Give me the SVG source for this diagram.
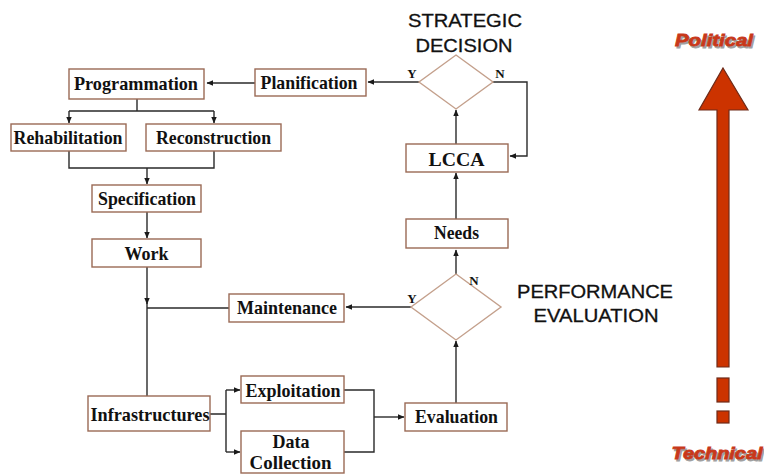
<svg xmlns="http://www.w3.org/2000/svg" width="764" height="474" viewBox="0 0 764 474">
  <style>
    .box { fill: #ffffff; stroke: #9a6a55; stroke-width: 1.4; }
    .dia { fill: #ffffff; stroke: #c4a08c; stroke-width: 1.4; }
    .lbl { font-family: "Liberation Serif", "Times New Roman", serif; font-weight: bold; font-size: 19px; fill: #111111; text-anchor: middle; }
    .yn { font-family: "Liberation Serif", "Times New Roman", serif; font-weight: bold; font-size: 13px; fill: #111111; text-anchor: middle; }
    .head { font-family: "Liberation Sans", Arial, sans-serif; font-size: 18px; fill: #111111; stroke: #111111; stroke-width: 0.3; text-anchor: middle; }
    .lvl { font-family: "Liberation Sans", Arial, sans-serif; font-weight: bold; font-style: italic; font-size: 17px; stroke-width: 0.8; text-anchor: middle; }
    .conn { fill: none; stroke: #2a2a2a; stroke-width: 1.4; }
  </style>
  <defs>
    <marker id="arr" markerWidth="7" markerHeight="7" refX="6" refY="3.5" orient="auto" markerUnits="userSpaceOnUse">
      <path d="M0,0.8 L6.5,3.5 L0,6.2 Z" fill="#1a1a1a"/>
    </marker>
  </defs>

  <rect width="764" height="474" fill="#ffffff"/>

  <!-- headings -->
  <g id="strategic-heading">
    <text class="head" x="465" y="27" textLength="114" lengthAdjust="spacingAndGlyphs">STRATEGIC</text>
    <text class="head" x="464" y="52" textLength="97" lengthAdjust="spacingAndGlyphs">DECISION</text>
  </g>
  <g id="performance-heading">
    <text class="head" x="595" y="298" textLength="156" lengthAdjust="spacingAndGlyphs">PERFORMANCE</text>
    <text class="head" x="596" y="322" textLength="125" lengthAdjust="spacingAndGlyphs">EVALUATION</text>
  </g>

  <!-- connectors -->
  <g id="connectors">
    <path class="conn" d="M255,83 H207" marker-end="url(#arr)"/>
    <path class="conn" d="M419,82 H368" marker-end="url(#arr)"/>
    <path class="conn" d="M137,99 V111 M69,111 H214"/>
    <path class="conn" d="M69,111 V123" marker-end="url(#arr)"/>
    <path class="conn" d="M214,111 V123" marker-end="url(#arr)"/>
    <path class="conn" d="M69,151 V168 H214 V151"/>
    <path class="conn" d="M147,168 V184" marker-end="url(#arr)"/>
    <path class="conn" d="M147,212 V238" marker-end="url(#arr)"/>
    <path class="conn" d="M147,267 V304" marker-end="url(#arr)"/>
    <path class="conn" d="M147,303 V396"/>
    <path class="conn" d="M229,308 H147"/>
    <path class="conn" d="M411,307 H346" marker-end="url(#arr)"/>
    <path class="conn" d="M456,274 V250" marker-end="url(#arr)"/>
    <path class="conn" d="M456,219 V173" marker-end="url(#arr)"/>
    <path class="conn" d="M456,144 V110" marker-end="url(#arr)"/>
    <path class="conn" d="M493,82 H527 V156 H510" marker-end="url(#arr)"/>
    <path class="conn" d="M456,403 V341" marker-end="url(#arr)"/>
    <path class="conn" d="M210,414 H226 M226,390 V452"/>
    <path class="conn" d="M226,390 H240" marker-end="url(#arr)"/>
    <path class="conn" d="M226,452 H240" marker-end="url(#arr)"/>
    <path class="conn" d="M344,390 H374 V452 H344"/>
    <path class="conn" d="M374,417 H404" marker-end="url(#arr)"/>
  </g>

  <!-- nodes -->
  <g id="programmation">
    <rect class="box" x="69" y="69" width="135" height="30"/>
    <text class="lbl" x="136" y="90" textLength="124" lengthAdjust="spacingAndGlyphs">Programmation</text>
  </g>
  <g id="planification">
    <rect class="box" x="255" y="69" width="111" height="27"/>
    <text class="lbl" x="309" y="89" textLength="97" lengthAdjust="spacingAndGlyphs">Planification</text>
  </g>
  <g id="rehabilitation">
    <rect class="box" x="11" y="124" width="115" height="27"/>
    <text class="lbl" x="68" y="144" textLength="109" lengthAdjust="spacingAndGlyphs">Rehabilitation</text>
  </g>
  <g id="reconstruction">
    <rect class="box" x="146" y="124" width="135" height="27"/>
    <text class="lbl" x="213.5" y="144" textLength="115" lengthAdjust="spacingAndGlyphs">Reconstruction</text>
  </g>
  <g id="specification">
    <rect class="box" x="92" y="185" width="109" height="27"/>
    <text class="lbl" x="147" y="205" textLength="98" lengthAdjust="spacingAndGlyphs">Specification</text>
  </g>
  <g id="work">
    <rect class="box" x="92" y="239" width="109" height="28"/>
    <text class="lbl" x="146.5" y="260" textLength="44" lengthAdjust="spacingAndGlyphs">Work</text>
  </g>
  <g id="maintenance">
    <rect class="box" x="229" y="294" width="115" height="28"/>
    <text class="lbl" x="287" y="314" textLength="100" lengthAdjust="spacingAndGlyphs">Maintenance</text>
  </g>
  <g id="infrastructures">
    <rect class="box" x="88" y="396" width="122" height="35"/>
    <text class="lbl" x="150" y="421" textLength="119" lengthAdjust="spacingAndGlyphs">Infrastructures</text>
  </g>
  <g id="exploitation">
    <rect class="box" x="241" y="376" width="103" height="27"/>
    <text class="lbl" x="293" y="397" textLength="95" lengthAdjust="spacingAndGlyphs">Exploitation</text>
  </g>
  <g id="data-collection">
    <rect class="box" x="241" y="431" width="103" height="42"/>
    <text class="lbl" x="291" y="448" textLength="37" lengthAdjust="spacingAndGlyphs">Data</text>
    <text class="lbl" x="290.5" y="469" textLength="82" lengthAdjust="spacingAndGlyphs">Collection</text>
  </g>
  <g id="evaluation">
    <rect class="box" x="405" y="403" width="102" height="28"/>
    <text class="lbl" x="456.5" y="423" textLength="83" lengthAdjust="spacingAndGlyphs">Evaluation</text>
  </g>
  <g id="performance-decision">
    <polygon class="dia" points="456,274 501,307 456,340 411,307"/>
    <text class="yn" x="412" y="303">Y</text>
    <text class="yn" x="474" y="285">N</text>
  </g>
  <g id="needs">
    <rect class="box" x="406" y="219" width="102" height="29"/>
    <text class="lbl" x="456.5" y="239" textLength="45" lengthAdjust="spacingAndGlyphs">Needs</text>
  </g>
  <g id="lcca">
    <rect class="box" x="406" y="144" width="102" height="28"/>
    <text class="lbl" x="456.5" y="166" textLength="56" lengthAdjust="spacingAndGlyphs">LCCA</text>
  </g>
  <g id="strategic-decision">
    <polygon class="dia" points="456,55 493,82 456,109 419,82"/>
    <text class="yn" x="412" y="78">Y</text>
    <text class="yn" x="500" y="78">N</text>
  </g>

  <!-- political / technical scale -->
  <g id="scale">
    <text class="lvl" x="715.5" y="47.5" fill="#a0a0a0" stroke="#a0a0a0" textLength="78" lengthAdjust="spacingAndGlyphs">Political</text>
    <text class="lvl" x="714" y="46" fill="#c8381a" stroke="#c8381a" textLength="78" lengthAdjust="spacingAndGlyphs">Political</text>
    <polygon points="723,68 748,110 729,110 729,367 717,367 717,110 699,110" fill="#cc3300" stroke="#6e2a18" stroke-width="1.2"/>
    <rect x="717" y="378" width="12" height="24" fill="#cc3300" stroke="#6e2a18" stroke-width="1.2"/>
    <rect x="717" y="411" width="12" height="12" fill="#cc3300" stroke="#6e2a18" stroke-width="1.2"/>
    <text class="lvl" x="718.5" y="460.5" fill="#a0a0a0" stroke="#a0a0a0" textLength="91" lengthAdjust="spacingAndGlyphs">Technical</text>
    <text class="lvl" x="717" y="459" fill="#c8381a" stroke="#c8381a" textLength="91" lengthAdjust="spacingAndGlyphs">Technical</text>
  </g>
</svg>
